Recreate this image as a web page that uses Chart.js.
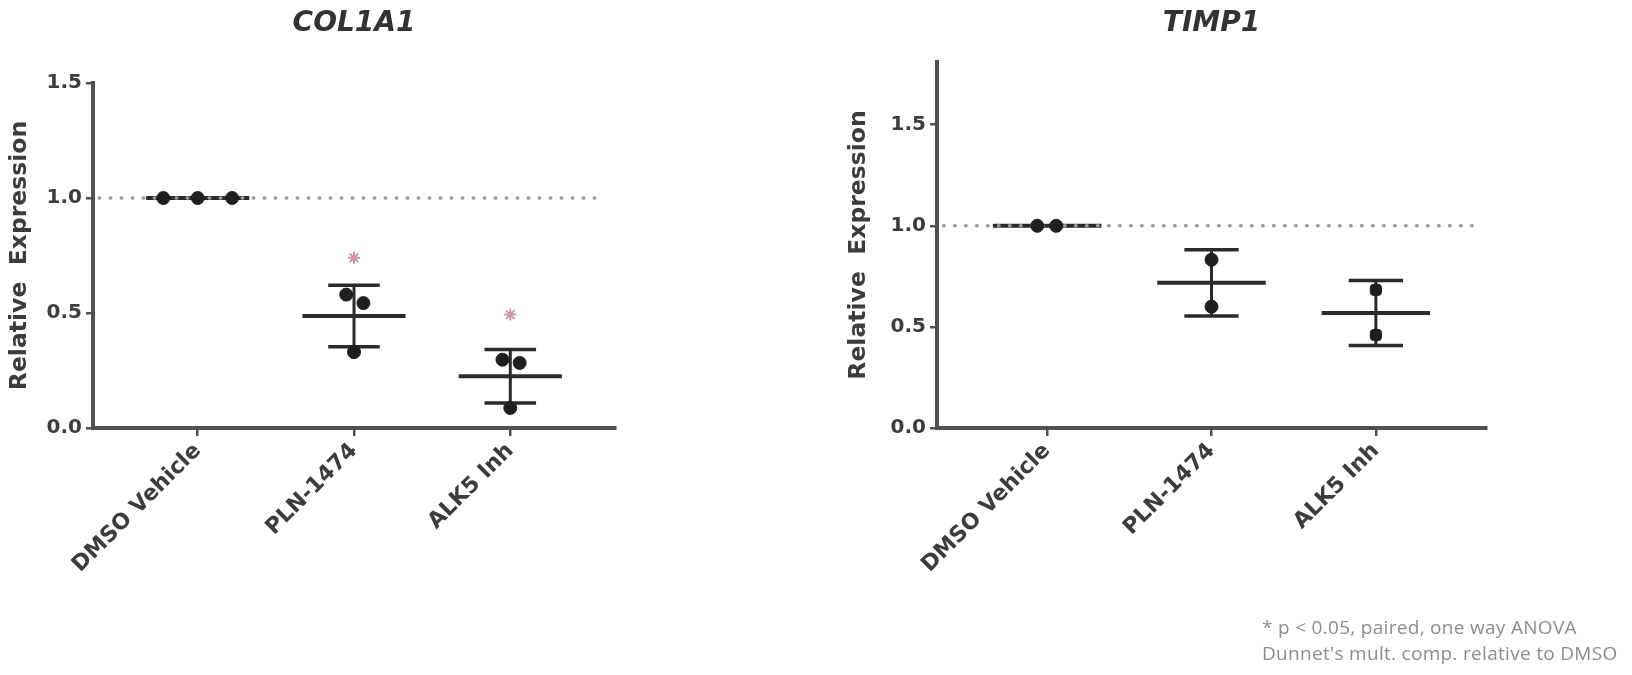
<!DOCTYPE html>
<html>
<head>
<meta charset="utf-8">
<script src="https://cdn.jsdelivr.net/npm/chart.js@4.4.0/dist/chart.umd.min.js"></script>
<style>
  html, body { margin: 0; padding: 0; background: #fff; }
  #wrap { position: relative; width: 1632px; height: 675px; overflow: hidden; }
  .box { position: absolute; top: 0; height: 675px; }
  #note { position: absolute; left: 1262px; top: 614px; font: 19px "Open Sans", sans-serif; letter-spacing: 0.3px; color: #8c8c8c; line-height: 26px; white-space: nowrap; }
</style>
</head>
<body>
<div id="wrap">
  <div class="box" style="left:0;width:800px"><canvas id="c1"></canvas></div>
  <div class="box" style="left:800px;width:832px"><canvas id="c2"></canvas></div>
  <div id="note">* p &lt; 0.05, paired, one way ANOVA<br>Dunnet's mult. comp. relative to DMSO</div>
</div>
<script>
const groups = ["DMSO Vehicle", "PLN-1474", "ALK5 Inh"];
const yTicks = [0, 0.5, 1.0, 1.5];

// COL1A1 - individual replicates (group index, small horizontal jitter, value)
const colGroup  = [0, 0, 0, 1, 1, 1, 2, 2, 2];
const colJitter = [-0.22, 0, 0.22, -0.05, 0.06, 0, -0.05, 0.06, 0];
const colVals   = [1, 1, 1, 0.58, 0.543, 0.33, 0.297, 0.283, 0.087];
const colMean   = [1.0, 0.487, 0.225];
const colSd     = [0, 0.134, 0.116];
const colStar   = [null, 0.74, 0.493];
const colMax    = 1.5;

// TIMP1
const timpGroup  = [0, 0, 1, 1, 2, 2];
const timpJitter = [-0.06, 0.055, 0, 0, 0, 0];
const timpVals   = [1, 1, 0.832, 0.60, 0.683, 0.46];
const timpMean   = [1.0, 0.718, 0.569];
const timpSd     = [0, 0.164, 0.161];
const timpMax    = 1.81;

const refY = 1.0;
const refFrom = -0.63, refTo = 2.6;

const INK = "#2b2b2b", AXIS = "#505050", TXT = "#3c3c3c";
const FAM = "'DejaVu Sans', sans-serif";

// mean line + SD whiskers, drawn through the chart scales
const meanSd = {
  id: "meanSd",
  beforeDatasetsDraw(chart, args, opts) {
    const { ctx, scales: { x, y } } = chart;
    const seg = (x0, y0, x1, y1) => {
      ctx.beginPath();
      ctx.moveTo(x.getPixelForValue(x0), y.getPixelForValue(y0));
      ctx.lineTo(x.getPixelForValue(x1), y.getPixelForValue(y1));
      ctx.stroke();
    };
    ctx.save();
    ctx.strokeStyle = INK;
    opts.mean.forEach((m, i) => {
      const sd = opts.sd[i];
      ctx.lineWidth = 4;
      seg(i - 0.33, m, i + 0.33, m);
      if (sd > 0) {
        ctx.lineWidth = 3;
        seg(i, m - sd, i, m + sd);
        ctx.lineWidth = 3.5;
        seg(i - 0.165, m + sd, i + 0.165, m + sd);
        seg(i - 0.165, m - sd, i + 0.165, m - sd);
      }
    });
    ctx.restore();
  }
};

function makeChart(id, cfg) {
  const pts = cfg.vals.map((v, k) => ({ x: cfg.group[k] + cfg.jitter[k], y: v }));
  const datasets = [
    {
      type: "line",
      data: [{ x: refFrom, y: refY }, { x: refTo, y: refY }],
      borderColor: "#9a9a9a", borderWidth: 3.5, borderDash: [0.5, 10.5],
      borderCapStyle: "round", pointRadius: 0, order: 3
    },
    {
      type: "scatter",
      data: pts,
      pointRadius: 6.5, pointStyle: cfg.styles,
      backgroundColor: "#1f1f1f", borderColor: "#1f1f1f", order: 1
    }
  ];
  if (cfg.star) {
    datasets.push({
      type: "scatter",
      data: cfg.star.map((v, i) => v == null ? null : { x: i, y: v }).filter(Boolean),
      pointStyle: "star", pointRadius: 6, borderWidth: 2,
      borderColor: "#cf94a2", backgroundColor: "#cf94a2", order: 2
    });
  }
  return new Chart(document.getElementById(id), {
    type: "scatter",
    data: { datasets },
    plugins: [meanSd],
    options: {
      responsive: true, maintainAspectRatio: false, animation: false,
      layout: { padding: cfg.pad },
      plugins: {
        legend: { display: false }, tooltip: { enabled: false },
        title: {
          display: true, text: cfg.title, fullSize: false, color: "#333",
          font: { family: FAM, size: 28, weight: "bold", style: "italic" },
          padding: { top: 7, bottom: cfg.titleGap }
        },
        meanSd: { mean: cfg.mean, sd: cfg.sd }
      },
      scales: {
        x: {
          type: "linear", min: -0.67, max: 2.67,
          afterBuildTicks: s => { s.ticks = groups.map((g, i) => ({ value: i })); },
          afterFit: s => { s.height = 200; },
          ticks: {
            callback: v => groups[v], autoSkip: false, maxRotation: 45, minRotation: 45,
            color: TXT, padding: 2, font: { family: FAM, size: 22, weight: "bold" }
          },
          grid: { drawOnChartArea: false, tickLength: 8, color: AXIS, lineWidth: 2.5 },
          border: { color: AXIS, width: 4 }
        },
        y: {
          min: 0, max: cfg.max,
          afterBuildTicks: s => { s.ticks = yTicks.map(v => ({ value: v })); },
          afterFit: s => { s.width = cfg.yWidth; },
          ticks: {
            callback: v => v.toFixed(1), color: TXT, padding: 4,
            font: { family: FAM, size: 20, weight: "bold" }
          },
          grid: { drawOnChartArea: false, tickLength: 7, color: AXIS, lineWidth: 2.5 },
          border: { color: AXIS, width: 4 },
          title: {
            display: true, text: "Relative  Expression", color: TXT,
            font: { family: FAM, size: 23.5, weight: "bold" }, padding: { top: 6, bottom: 0 }
          }
        }
      }
    }
  });
}

makeChart("c1", {
  title: "COL1A1", group: colGroup, jitter: colJitter, vals: colVals,
  mean: colMean, sd: colSd, star: colStar, max: colMax,
  styles: "circle",
  pad: { left: 0, right: 185, top: 0, bottom: 47 }, titleGap: 42.4, yWidth: 93
});

makeChart("c2", {
  title: "TIMP1", group: timpGroup, jitter: timpJitter, vals: timpVals,
  mean: timpMean, sd: timpSd, star: null, max: timpMax,
  styles: ["circle", "circle", "circle", "circle", "rectRounded", "rectRounded"],
  pad: { left: 39, right: 146, top: 0, bottom: 47 }, titleGap: 21.4, yWidth: 98
});
</script>
</body>
</html>
